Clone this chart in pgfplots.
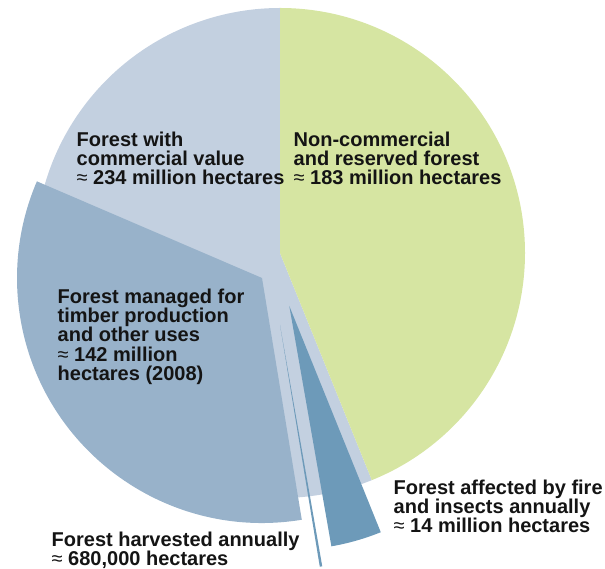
\documentclass[border=0pt]{standalone}
\usepackage{fontspec}
\setmainfont{Liberation Sans}
\usepackage{pgfplots}
\pgfplotsset{compat=1.18}
\definecolor{cgreen}{HTML}{D6E5A2}
\definecolor{clight}{HTML}{C3D0E0}
\definecolor{cman}{HTML}{98B2CA}
\definecolor{cfire}{HTML}{6D9AB9}
\newcommand{\ap}{{\mdseries ≈}}
\tikzset{lbl/.style={anchor=base west, inner sep=0pt, text=black!92,
    font=\fontsize{20bp}{20bp}\selectfont\bfseries}}
\begin{document}
\begin{tikzpicture}
% data (million hectares)
\def\vNonComm{183}
\def\vComm{234}
\def\vManaged{142}
\def\vFire{14}
\def\vHarv{0.68}
\pgfmathsetmacro\tot{\vNonComm+\vComm}
\pgfmathsetmacro\aG{90-360*(\vNonComm/\tot)}
\pgfmathsetmacro\aC{\aG-360*(\vComm/\tot)}
\pgfmathsetmacro\aF{\aG-360*(\vFire/\tot)}
\pgfmathsetmacro\aH{\aF-360*(\vHarv/\tot)}
\pgfmathsetmacro\aM{\aH-360*(\vManaged/\tot)}
\begin{axis}[
  width=605bp, height=569bp, scale only axis,
  xmin=0, xmax=605, ymin=0, ymax=569,
  hide axis, clip=false,
]
% commercial (whole)
\fill[clight] (axis cs:280,316) -- ++(\aG:245bp) arc[start angle=\aG, end angle=\aC, radius=245bp] -- cycle;
% non-commercial
\fill[cgreen] (axis cs:280,316) -- ++(90:245bp) arc[start angle=90, end angle=\aG, radius=245bp] -- cycle;
% managed
\fill[cman] (axis cs:262,291) -- ++(\aH:245bp) arc[start angle=\aH, end angle=\aM, radius=245bp] -- cycle;
% harvested
\fill[cfire] (axis cs:280,244) -- ++(\aF:245bp) arc[start angle=\aF, end angle=\aH, radius=245bp] -- cycle;
% fire and insects
\fill[cfire] (axis cs:289.3,263) -- ++(\aG:244bp) arc[start angle=\aG, end angle=\aF, radius=244bp] -- cycle;

\node[lbl] at (axis cs:76.5,422.3) {Forest with};
\node[lbl] at (axis cs:76.5,403.3) {commercial value};
\node[lbl] at (axis cs:76.5,384.3) {\ap{} 234 million hectares};

\node[lbl] at (axis cs:293.5,422) {Non-commercial};
\node[lbl] at (axis cs:293.5,403) {and reserved forest};
\node[lbl] at (axis cs:293.5,384) {\ap{} 183 million hectares};

\node[lbl] at (axis cs:57.5,265.7) {Forest managed for};
\node[lbl] at (axis cs:57.5,246.5) {timber production};
\node[lbl] at (axis cs:57.5,227.2) {and other uses};
\node[lbl] at (axis cs:57.5,207.9) {\ap{} 142 million};
\node[lbl] at (axis cs:57.5,188.6) {hectares (2008)};

\node[lbl] at (axis cs:393.5,74.6) {Forest affected by fire};
\node[lbl] at (axis cs:393.5,55.7) {and insects annually};
\node[lbl] at (axis cs:393.5,36.8) {\ap{} 14 million hectares};

\node[lbl] at (axis cs:51.5,22.5) {Forest harvested annually};
\node[lbl] at (axis cs:51.5,4) {\ap{} 680,000 hectares};
\end{axis}
\pgfresetboundingbox
\path[use as bounding box] (0,0) rectangle (605bp,569bp);
\end{tikzpicture}
\end{document}
